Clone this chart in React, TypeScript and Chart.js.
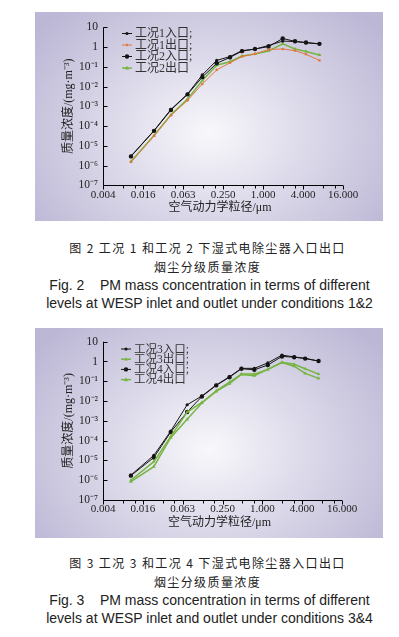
import React, { useEffect, useRef } from "react";
import { Chart, registerables } from "chart.js";

Chart.register(...registerables);

// particle aerodynamic diameter (μm) for each impactor stage
const sizes = [0.0103, 0.0229, 0.0412, 0.0731, 0.122, 0.201, 0.319, 0.483, 0.758, 1.21, 1.98, 3.03, 4.44, 7.08];

// Fig. 2 series (mg/m3)
const inlet1 = [3.0e-6, 5.9e-5, 7.0e-4, 4.2e-3, 0.039, 0.21, 0.33, 0.66, 0.78, 1.2, 2.0, 1.9, 1.65, 1.45];
const outlet1 = [1.5e-6, 3.2e-5, 3.5e-4, 2.0e-3, 0.0135, 0.07, 0.16, 0.33, 0.45, 0.75, 0.8, 0.66, 0.43, 0.21];
const inlet2 = [2.9e-6, 5.7e-5, 6.5e-4, 4.0e-3, 0.030, 0.15, 0.30, 0.62, 0.8, 1.05, 2.7, 1.95, 1.7, 1.45];
const outlet2 = [1.6e-6, 3.3e-5, 3.7e-4, 2.3e-3, 0.020, 0.12, 0.18, 0.35, 0.45, 0.63, 1.45, 0.8, 0.6, 0.40];

// Fig. 3 series (mg/m3)
const inlet3 = [1.8e-6, 1.8e-5, 3.0e-4, 6.5e-3, 0.018, 0.065, 0.17, 0.45, 0.45, 0.85, 2.1, 1.7, 1.45, 1.05];
const outlet3 = [1.0e-6, 8.7e-6, 1.6e-4, 2.8e-3, 8.5e-3, 0.033, 0.09, 0.23, 0.23, 0.40, 0.9, 0.72, 0.43, 0.23];
const inlet4 = [1.7e-6, 1.4e-5, 2.7e-4, 2.8e-3, 0.017, 0.062, 0.16, 0.43, 0.38, 0.66, 1.8, 1.65, 1.4, 1.05];
const outlet4 = [8.5e-7, 4.8e-6, 1.4e-4, 1.2e-3, 8.0e-3, 0.031, 0.075, 0.22, 0.19, 0.40, 0.88, 0.58, 0.25, 0.14];

const xTickValues = [0.00390625, 0.015625, 0.0625, 0.25, 1, 4, 16];
const xTickLabels = ["0.004", "0.016", "0.063", "0.250", "1.000", "4.000", "16.000"];
const yTickValues = [1e-7, 1e-6, 1e-5, 1e-4, 1e-3, 1e-2, 1e-1, 1, 10];
const yTickLabels = ["10⁻⁷", "10⁻⁶", "10⁻⁵", "10⁻⁴", "10⁻³", "10⁻²", "10⁻¹", "1", "10"];

const legend2 = ["工况1入口;", "工况1出口;", "工况2入口;", "工况2出口"];
const legend3 = ["工况3入口;", "工况3出口;", "工况4入口;", "工况4出口"];

const xTitle = "空气动力学粒径/μm";
const yTitle = "质量浓度/(mg·m⁻³)";

const BLACK = "#151515";
const ORANGE = "#e2773f";
const GREEN = "#78b443";

const FONT = '"Liberation Serif", "Noto Sans CJK SC", serif';

type Series = { label: string; values: number[]; color: string; marker: string; radius: number; width: number };

type Geo = {
  top: number; height: number;
  areaTop: number; areaBottom: number; areaLeft: number; areaRight: number;
  legendTop: number; legendGap: number; legendX: number; legendFont: number;
};

function makePlugin(geo: Geo) {
  return {
    id: "customAxes",
    afterDraw(chart: any) {
      const ctx = chart.ctx as CanvasRenderingContext2D;
      const { left, right, top, bottom } = chart.chartArea;
      const xs = chart.scales.x;
      ctx.save();
      ctx.strokeStyle = "#000";
      ctx.lineWidth = 1;
      ctx.beginPath();
      const lx = Math.round(left) + 0.5;
      const by = Math.round(bottom) + 0.5;
      ctx.moveTo(lx, top);
      ctx.lineTo(lx, by);
      ctx.lineTo(right, by);
      // y ticks (inside)
      yTickValues.forEach((v) => {
        const py = Math.round(chart.scales.y.getPixelForValue(v)) + 0.5;
        ctx.moveTo(lx, py);
        ctx.lineTo(lx + 4, py);
      });
      // x ticks (outside) major + minor at 2x, 3x
      xTickValues.forEach((v, i) => {
        const px = Math.round(xs.getPixelForValue(v)) + 0.5;
        ctx.moveTo(px, by);
        ctx.lineTo(px, by + 4);
        if (i < xTickValues.length - 1) {
          [2, 3].forEach((m) => {
            const qx = Math.round(xs.getPixelForValue(v * m)) + 0.5;
            ctx.moveTo(qx, by);
            ctx.lineTo(qx, by + 3);
          });
        }
      });
      ctx.stroke();

      // axis titles
      ctx.fillStyle = "#222";
      ctx.font = `12px ${FONT}`;
      ctx.textAlign = "center";
      ctx.textBaseline = "middle";
      ctx.fillText(xTitle, (left + right) / 2 - 3, bottom + 23);
      ctx.save();
      ctx.translate(left - 34, (top + bottom) / 2);
      ctx.rotate(-Math.PI / 2);
      ctx.fillText(yTitle, 0, 0);
      ctx.restore();

      // legend
      ctx.font = `${geo.legendFont}px ${FONT}`;
      ctx.textAlign = "left";
      chart.data.datasets.forEach((ds: any, i: number) => {
        const y = geo.legendTop + i * geo.legendGap;
        const x0 = geo.legendX;
        ctx.strokeStyle = ds.borderColor;
        ctx.lineWidth = ds.borderWidth;
        ctx.beginPath();
        ctx.moveTo(x0, y);
        ctx.lineTo(x0 + 10, y);
        ctx.stroke();
        ctx.fillStyle = ds.borderColor;
        const cx = x0 + 5;
        const r = ds.pointRadius;
        ctx.beginPath();
        if (ds.pointStyle === "triangle") {
          ctx.moveTo(cx, y - r);
          ctx.lineTo(cx + r, y + r * 0.7);
          ctx.lineTo(cx - r, y + r * 0.7);
          ctx.closePath();
        } else {
          ctx.arc(cx, y, r, 0, Math.PI * 2);
        }
        ctx.fill();
        ctx.fillStyle = "#333";
        ctx.fillText(ds.label, x0 + 13, y + 0.5);
      });
      ctx.restore();
    },
  };
}

function ChartPanel({ series, geo }: { series: Series[]; geo: Geo }) {
  const ref = useRef<HTMLCanvasElement | null>(null);
  useEffect(() => {
    if (!ref.current) return;
    const W = 348;
    const chart = new Chart(ref.current, {
      type: "line",
      data: {
        datasets: series.map((s) => ({
          label: s.label,
          data: sizes.map((x, i) => ({ x, y: s.values[i] })),
          borderColor: s.color,
          backgroundColor: s.color,
          borderWidth: s.width,
          pointRadius: s.radius,
          pointStyle: s.marker,
          pointBorderWidth: 0,
          tension: 0,
          fill: false,
        })),
      },
      options: {
        animation: false,
        responsive: false,
        devicePixelRatio: 1,
        layout: {
          padding: { left: 0, top: geo.areaTop, right: W - geo.areaRight, bottom: 0 },
        },
        plugins: { legend: { display: false }, tooltip: { enabled: false }, title: { display: false } },
        scales: {
          x: {
            type: "logarithmic",
            min: xTickValues[0],
            max: xTickValues[xTickValues.length - 1],
            grid: { display: false, drawTicks: false },
            border: { display: false },
            afterBuildTicks: (sc: any) => {
              sc.ticks = xTickValues.map((v) => ({ value: v }));
            },
            afterFit: (sc: any) => {
              sc.height = geo.height - geo.areaBottom;
            },
            ticks: {
              autoSkip: false,
              maxRotation: 0,
              padding: 3,
              color: "#222",
              font: { family: FONT, size: 11 },
              callback: (_v: any, i: number) => xTickLabels[i],
            },
          },
          y: {
            type: "logarithmic",
            min: yTickValues[0],
            max: yTickValues[yTickValues.length - 1],
            grid: { display: false, drawTicks: false },
            border: { display: false },
            afterBuildTicks: (sc: any) => {
              sc.ticks = yTickValues.map((v) => ({ value: v }));
            },
            afterFit: (sc: any) => {
              sc.width = geo.areaLeft;
            },
            ticks: {
              autoSkip: false,
              padding: 5,
              color: "#222",
              font: { family: FONT, size: 11.5 },
              callback: (_v: any, i: number) => yTickLabels[i],
            },
          },
        },
      } as any,
      plugins: [makePlugin(geo)],
    });
    return () => chart.destroy();
  }, []);
  return (
    <div
      style={{
        position: "absolute",
        left: 35,
        top: geo.top,
        width: 348,
        height: geo.height,
        background: "radial-gradient(ellipse 62% 80% at 50% 58%, #f8f8fb 0%, #dcdaea 45%, #bcb7d5 100%)",
      }}
    >
      <canvas ref={ref} width={348} height={geo.height} style={{ display: "block" }} />
    </div>
  );
}

const cnStyle: React.CSSProperties = {
  position: "absolute",
  left: 8,
  width: 399,
  textAlign: "center",
  fontFamily: '"Noto Sans CJK SC", sans-serif',
  fontSize: 12,
  letterSpacing: 1.4,
  color: "#222",
  lineHeight: "14px",
  whiteSpace: "pre",
};
const enStyle: React.CSSProperties = {
  position: "absolute",
  left: 10,
  width: 399,
  textAlign: "center",
  fontFamily: '"Liberation Sans", Arial, sans-serif',
  fontSize: 14,
  color: "#222",
  whiteSpace: "pre",
  lineHeight: "16px",
};

export default function App() {
  const s2: Series[] = [
    { label: legend2[0], values: inlet1, color: BLACK, marker: "circle", radius: 1.6, width: 1 },
    { label: legend2[1], values: outlet1, color: ORANGE, marker: "circle", radius: 1.3, width: 1 },
    { label: legend2[2], values: inlet2, color: BLACK, marker: "circle", radius: 2.2, width: 1 },
    { label: legend2[3], values: outlet2, color: GREEN, marker: "triangle", radius: 2.2, width: 1.5 },
  ];
  const s3: Series[] = [
    { label: legend3[0], values: inlet3, color: BLACK, marker: "circle", radius: 1.6, width: 1 },
    { label: legend3[1], values: outlet3, color: GREEN, marker: "triangle", radius: 2, width: 1.5 },
    { label: legend3[2], values: inlet4, color: BLACK, marker: "circle", radius: 2.2, width: 1 },
    { label: legend3[3], values: outlet4, color: GREEN, marker: "triangle", radius: 2.2, width: 1.5 },
  ];
  const g2: Geo = {
    top: 12, height: 209, areaTop: 15.3, areaBottom: 173.3, areaLeft: 68, areaRight: 308,
    legendTop: 21.5, legendGap: 11.5, legendX: 87, legendFont: 12,
  };
  const g3: Geo = {
    top: 328, height: 210, areaTop: 13.7, areaBottom: 172, areaLeft: 68, areaRight: 307,
    legendTop: 21, legendGap: 10.2, legendX: 86, legendFont: 11.5,
  };
  return (
    <div style={{ position: "absolute", left: 0, top: 0, width: 399, height: 637, background: "#fff" }}>
      <ChartPanel series={s2} geo={g2} />
      <div style={{ ...cnStyle, top: 241 }}>图 2 工况 1 和工况 2 下湿式电除尘器入口出口</div>
      <div style={{ ...cnStyle, top: 260 }}>烟尘分级质量浓度</div>
      <div style={{ ...enStyle, top: 277 }}>{"Fig. 2    PM mass concentration in terms of different"}</div>
      <div style={{ ...enStyle, top: 295 }}>{"levels at WESP inlet and outlet under conditions 1&2"}</div>
      <ChartPanel series={s3} geo={g3} />
      <div style={{ ...cnStyle, top: 556 }}>图 3 工况 3 和工况 4 下湿式电除尘器入口出口</div>
      <div style={{ ...cnStyle, top: 575 }}>烟尘分级质量浓度</div>
      <div style={{ ...enStyle, top: 592 }}>{"Fig. 3    PM mass concentration in terms of different"}</div>
      <div style={{ ...enStyle, top: 610 }}>{"levels at WESP inlet and outlet under conditions 3&4"}</div>
    </div>
  );
}
